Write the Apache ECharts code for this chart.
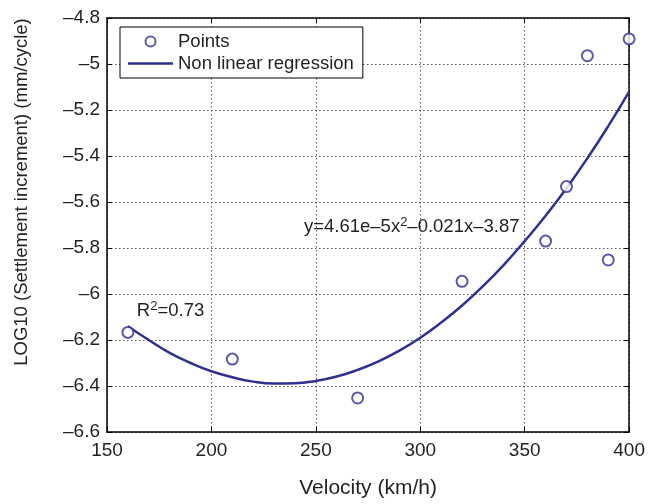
<!DOCTYPE html>
<html><head><meta charset="utf-8">
<script src="https://cdn.jsdelivr.net/npm/echarts@6/dist/echarts.min.js"></script>
<style>html,body{margin:0;padding:0;background:#fff}#c{width:648px;height:504px}</style>
</head><body><div id="c"></div>
<script>
// Measured points
const velocity = [160, 210, 270, 320, 360, 370, 380, 390, 400];
const logIncrement = [-6.167, -6.283, -6.452, -5.945, -5.770, -5.533, -4.964, -5.852, -4.891];
// Regression curve
const fitVelocity = [160, 170, 180, 190, 200, 210, 220, 230, 240, 250, 260, 270, 280, 290, 300, 310, 320, 330, 340, 350, 360, 370, 380, 390, 400];
const fitValues = [-6.14, -6.20, -6.256, -6.30, -6.336, -6.362, -6.381, -6.389, -6.388, -6.378, -6.359, -6.330, -6.293, -6.246, -6.19, -6.124, -6.05, -5.966, -5.873, -5.77, -5.66, -5.54, -5.41, -5.27, -5.12];
// Axis ticks
const xAxisRange = [150, 400, 50];
const yAxisRange = [-6.6, -4.8, 0.2];
// Text
const seriesNames = ['Points', 'Non linear regression'];
const xTitle = 'Velocity (km/h)';
const yTitle = 'LOG10 (Settlement increment) (mm/cycle)';
const annotations = [
  { text: 'R{s|2}=0.73', x: 164.3, y: -6.072 },
  { text: 'y=4.61e\u20135x{s|2}\u20130.021x\u20133.87', x: 244.3, y: -5.707 }
];

const FONT = "'Liberation Sans', Arial, Helvetica, sans-serif";
const TXT = '#231f20';
const BLUE = '#2e3192';
const fmt = v => String(+v.toFixed(2)).replace('-', '\u2013');

const chart = echarts.init(document.getElementById('c'), null, { renderer: 'canvas' });

const xBase = {
  type: 'value', min: xAxisRange[0], max: xAxisRange[1], interval: xAxisRange[2],
  axisLine: { show: true, onZero: false, lineStyle: { color: '#000', width: 1.5 } },
  axisTick: { show: true, inside: true, length: 5, lineStyle: { color: '#000', width: 1 } },
};
const yBase = {
  type: 'value', min: yAxisRange[0], max: yAxisRange[1], interval: yAxisRange[2],
  axisLine: { show: true, onZero: false, lineStyle: { color: '#000', width: 1.5 } },
  axisTick: { show: true, inside: true, length: 5, lineStyle: { color: '#000', width: 1 } },
};
const gridDots = { show: true, lineStyle: { type: [1.5, 2.5], color: '#555', width: 1 } };

const option = {
  animation: false,
  backgroundColor: '#fff',
  textStyle: { fontFamily: FONT },
  grid: { left: 107, right: 16, top: 18, bottom: 72, containLabel: false },
  legend: {
    left: 120, top: 27, orient: 'vertical',
    padding: [5, 9, 5, 8], itemGap: 3, itemWidth: 45, itemHeight: 10,
    borderColor: '#000', borderWidth: 1, backgroundColor: '#fff',
    textStyle: { fontFamily: FONT, fontSize: 18.5, color: TXT, lineHeight: 18 },
    data: [
      { name: seriesNames[0] },
      { name: seriesNames[1], icon: 'path://M0,0 L45,0 L45,2.5 L0,2.5 Z' }
    ]
  },
  xAxis: [
    Object.assign({}, xBase, {
      position: 'bottom',
      axisLabel: { fontSize: 19, color: TXT, margin: 9, fontFamily: FONT },
      splitLine: gridDots,
      name: xTitle, nameLocation: 'middle', nameGap: 46,
      nameTextStyle: { fontSize: 21, color: TXT, fontFamily: FONT }
    }),
    Object.assign({}, xBase, {
      position: 'top', axisLabel: { show: false }, splitLine: { show: false }
    })
  ],
  yAxis: [
    Object.assign({}, yBase, {
      position: 'left',
      axisLabel: { fontSize: 19, color: TXT, margin: 7, fontFamily: FONT, formatter: fmt },
      splitLine: gridDots
    }),
    Object.assign({}, yBase, {
      position: 'right', axisLabel: { show: false }, splitLine: { show: false }
    })
  ],
  series: [
    {
      name: seriesNames[1], type: 'line', xAxisIndex: 0, yAxisIndex: 0,
      data: fitVelocity.map((v, i) => [v, fitValues[i]]),
      smooth: true, symbol: 'none', showSymbol: false,
      lineStyle: { color: BLUE, width: 2.5 }, itemStyle: { color: BLUE }, z: 2
    },
    {
      name: seriesNames[0], type: 'scatter', xAxisIndex: 0, yAxisIndex: 0,
      data: velocity.map((v, i) => [v, logIncrement[i]]),
      symbol: 'emptyCircle', symbolSize: 11,
      itemStyle: { color: BLUE, borderColor: BLUE, borderWidth: 1.4 }, z: 3
    }
  ]
};
chart.setOption(option);

const graphics = annotations.map(a => {
  const p = chart.convertToPixel({ xAxisIndex: 0, yAxisIndex: 0 }, [a.x, a.y]);
  return {
    type: 'text', x: p[0], y: p[1], z: 10,
    style: {
      text: a.text, fontSize: 18.5, fontFamily: FONT, fill: TXT, align: 'left', verticalAlign: 'middle',
      lineHeight: 22,
      rich: { s: { fontSize: 13, fontFamily: FONT, fill: TXT, verticalAlign: 'top', lineHeight: 12 } }
    }
  };
});
graphics.push({
  type: 'text', x: 22, y: 192, rotation: Math.PI / 2, z: 10,
  style: { text: yTitle, fontSize: 18.5, fontFamily: FONT, fill: TXT, align: 'center', verticalAlign: 'middle' }
});
chart.setOption({ graphic: graphics });
</script>
</body></html>
